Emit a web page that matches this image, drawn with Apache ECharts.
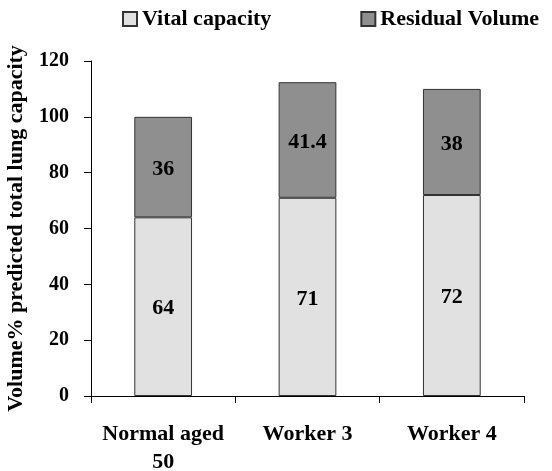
<!DOCTYPE html>
<html>
<head>
<meta charset="utf-8">
<script src="https://cdn.jsdelivr.net/npm/echarts@6/dist/echarts.min.js"></script>
<style>
  html, body { margin: 0; padding: 0; background: #fff; }
  #chart { width: 552px; height: 471px; }
</style>
</head>
<body>
<div id="chart"></div>
<script>
// Lung volumes as % of predicted total lung capacity
const categories = ['Normal aged\n50', 'Worker 3', 'Worker 4'];
const vitalCapacity = [64, 71, 72];
const residualVolume = [36, 41.4, 38];
const yTicks = [0, 20, 40, 60, 80, 100, 120];

const FONT = '"Liberation Serif", "Times New Roman", serif';
const chart = echarts.init(document.getElementById('chart'), null, { renderer: 'canvas' });

const labelStyle = {
  show: true,
  position: 'inside',
  offset: [0, 2],
  color: '#000',
  fontFamily: FONT,
  fontWeight: 'bold',
  fontSize: 22
};

chart.setOption({
  animation: false,
  backgroundColor: '#fff',
  textStyle: { fontFamily: FONT },
  legend: {
    left: 117,
    top: 3,
    itemWidth: 14,
    itemHeight: 14,
    itemGap: 89,
    icon: 'rect',
    textStyle: { fontFamily: FONT, fontWeight: 'bold', fontSize: 22, color: '#000' },
    data: ['Vital capacity', 'Residual Volume']
  },
  grid: {
    left: 91, right: 28, top: 61, bottom: 75,
    containLabel: false,
    outerBoundsMode: 'none'
  },
  xAxis: {
    type: 'category',
    data: categories,
    boundaryGap: true,
    axisLine: { lineStyle: { color: '#000', width: 1 } },
    axisTick: { show: true, length: 7, inside: false, lineStyle: { color: '#000' } },
    axisLabel: {
      color: '#000',
      fontFamily: FONT,
      fontWeight: 'bold',
      fontSize: 22,
      lineHeight: 28,
      margin: 24,
      interval: 0
    }
  },
  yAxis: {
    type: 'value',
    min: yTicks[0],
    max: yTicks[yTicks.length - 1],
    interval: 20,
    name: 'Volume% predicted total lung capacity',
    nameLocation: 'middle',
    nameGap: 64,
    nameTextStyle: { color: '#000', fontFamily: FONT, fontWeight: 'bold', fontSize: 22 },
    axisLine: { show: true, lineStyle: { color: '#000', width: 1 } },
    axisTick: { show: true, length: 7, lineStyle: { color: '#000' } },
    splitLine: { show: false },
    axisLabel: {
      color: '#000',
      fontFamily: FONT,
      fontWeight: 'bold',
      fontSize: 20,
      margin: 22
    }
  },
  series: [
    {
      name: 'Vital capacity',
      type: 'bar',
      stack: 'tlc',
      barWidth: '40%',
      data: vitalCapacity,
      itemStyle: { color: '#e1e1e1', borderColor: '#333', borderWidth: 1 },
      label: labelStyle
    },
    {
      name: 'Residual Volume',
      type: 'bar',
      stack: 'tlc',
      barWidth: '40%',
      data: residualVolume,
      itemStyle: { color: '#8f8f8f', borderColor: '#333', borderWidth: 1 },
      label: labelStyle
    }
  ]
});
</script>
</body>
</html>
